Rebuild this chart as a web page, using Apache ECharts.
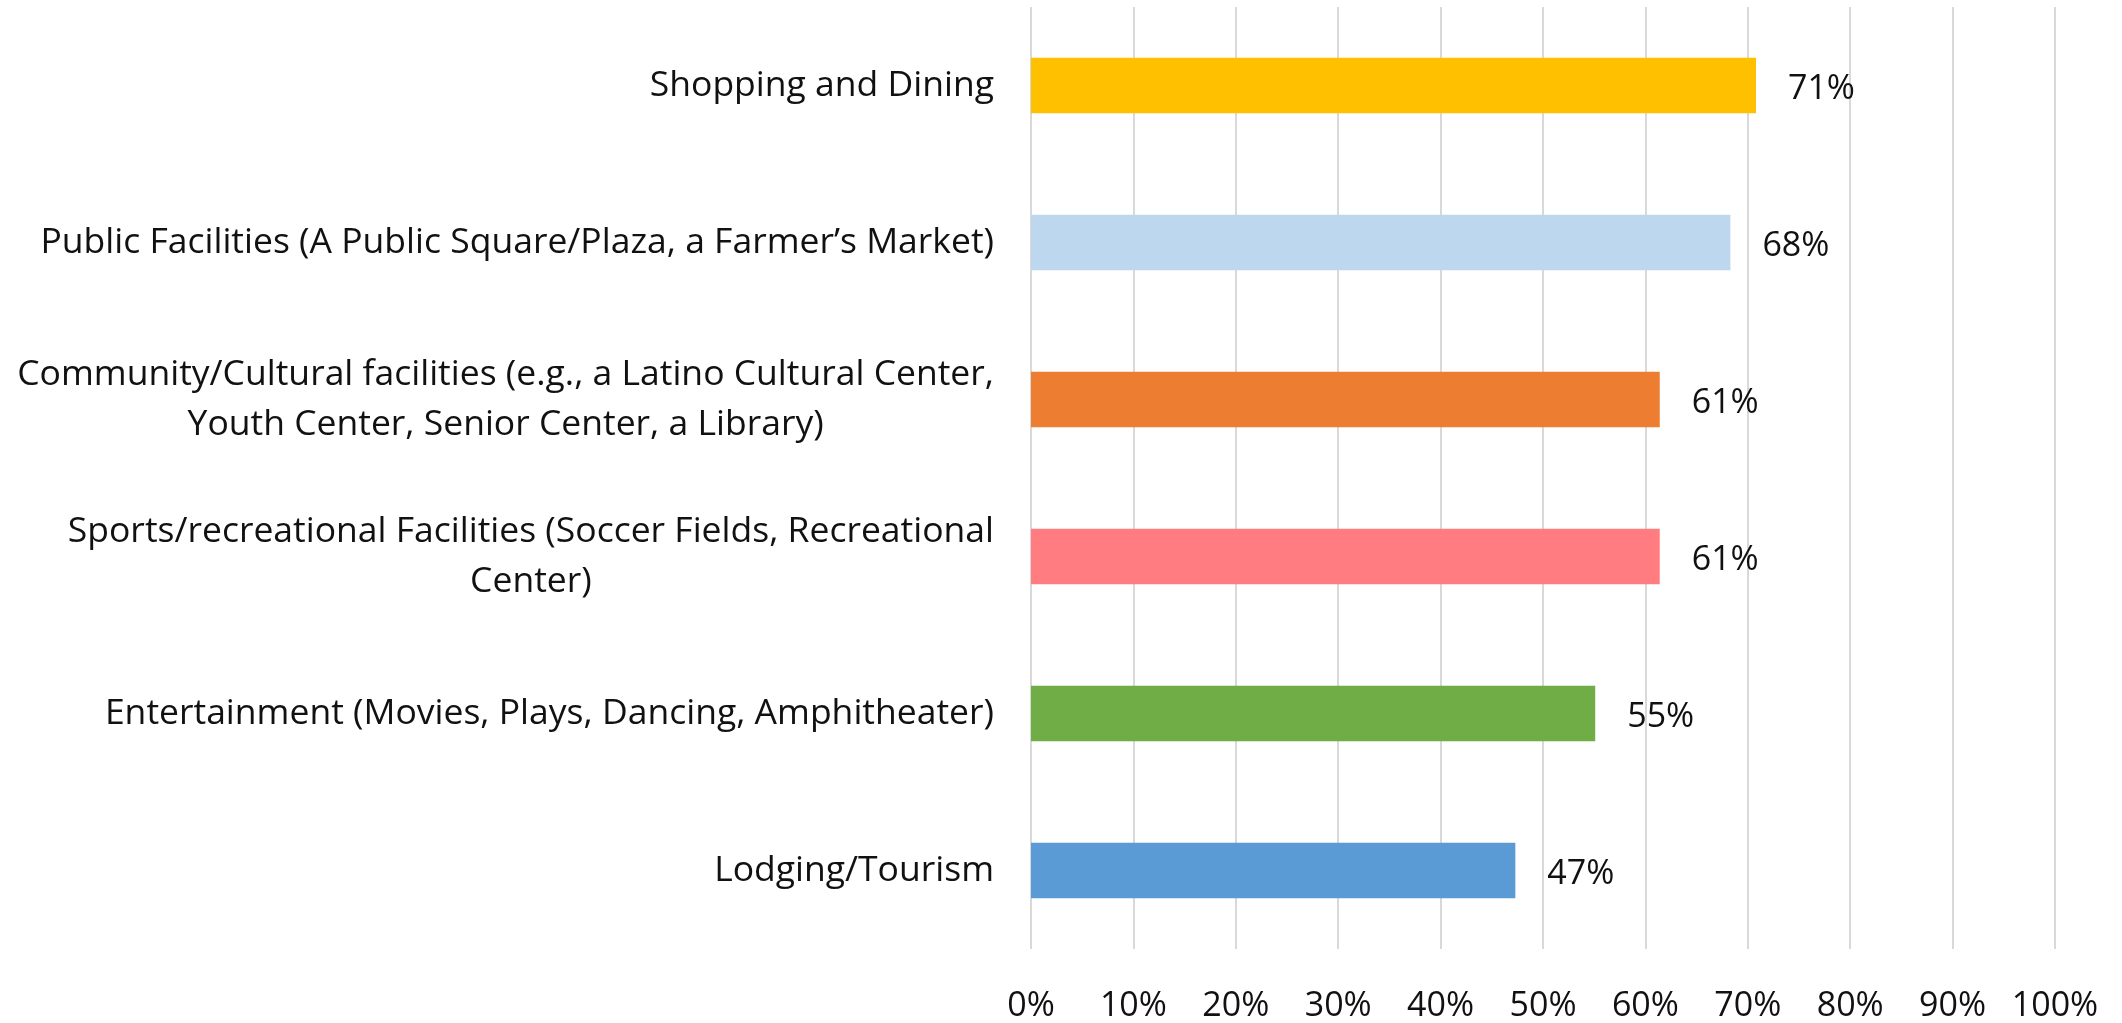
<!DOCTYPE html>
<html>
<head>
<meta charset="utf-8">
<script src="https://cdn.jsdelivr.net/npm/echarts@6/dist/echarts.min.js"></script>
<style>
html,body{margin:0;padding:0;background:#fff;}
#chart{width:2122px;height:1023px;}
</style>
</head>
<body>
<div id="chart"></div>
<script>
const categories = [
  "Shopping and Dining",
  "Public Facilities (A Public Square/Plaza, a Farmer\u2019s Market)",
  "Community/Cultural facilities (e.g., a Latino Cultural Center,\nYouth Center, Senior Center, a Library)",
  "Sports/recreational Facilities (Soccer Fields, Recreational\nCenter)",
  "Entertainment (Movies, Plays, Dancing, Amphitheater)",
  "Lodging/Tourism"
];
const values = [70.8, 68.3, 61.4, 61.4, 55.1, 47.3];
const barColors = ["#FFC000", "#BDD7EE", "#ED7D31", "#FF7C80", "#70AD47", "#5B9BD5"];
const xTicks = { min: 0, max: 100, interval: 10 };

const FONT = "'Open Sans', 'Noto Sans', sans-serif";
const CAT_FS = 35.5;
const chart = echarts.init(document.getElementById('chart'), null, {renderer: 'canvas'});
chart.setOption({
  animation: false,
  backgroundColor: '#ffffff',
  grid: { left: 1031, right: 67, top: 7, bottom: 68, containLabel: false },
  xAxis: {
    type: 'value',
    min: xTicks.min, max: xTicks.max, interval: xTicks.interval,
    axisLine: { show: false },
    axisTick: { show: false },
    splitLine: { show: true, lineStyle: { color: '#d9d9d9', width: 2 } },
    axisLabel: {
      formatter: '{value}%',
      fontFamily: FONT, fontSize: 34, color: '#111', margin: 40
    }
  },
  yAxis: {
    type: 'category',
    inverse: true,
    data: categories,
    axisLine: { show: false },
    axisTick: { show: false },
    splitLine: { show: false },
    axisLabel: {
      margin: 37,
      align: 'right',
      fontFamily: FONT, fontSize: CAT_FS, color: '#111', lineHeight: 50,
      formatter: function (v) {
        return v.split('\n').map(function (l) { return '{c|' + l + '}'; }).join('\n');
      },
      rich: {
        c: { align: 'center', fontFamily: FONT, fontSize: CAT_FS, color: '#111', lineHeight: 50 }
      }
    }
  },
  series: [{
    type: 'bar',
    barWidth: '35.4%',
    data: values.map(function (v, i) { return { value: v, itemStyle: { color: barColors[i] } }; }),
    label: {
      show: true,
      position: 'right',
      distance: 32,
      offset: [0, 4],
      fontFamily: FONT, fontSize: 34, color: '#111',
      formatter: function (p) { return Math.round(p.value) + '%'; }
    }
  }]
});
</script>
</body>
</html>
